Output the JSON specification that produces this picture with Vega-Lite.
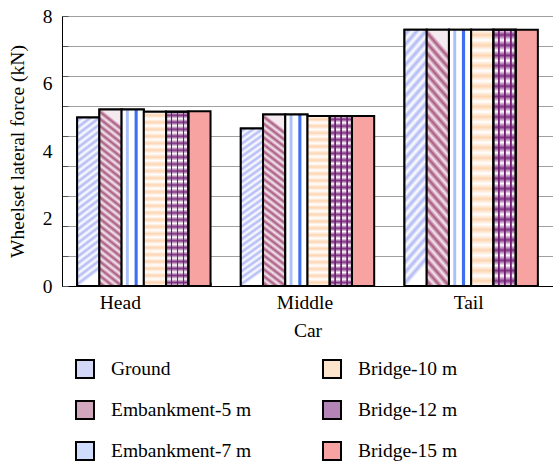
{
  "$schema": "https://vega.github.io/schema/vega-lite/v6.json",
  "width": 491,
  "height": 270,
  "autosize": "none",
  "padding": {"left": 62, "top": 16, "right": 0, "bottom": 177},
  "background": "white",
  "config": {
    "view": {"stroke": null},
    "font": "Liberation Serif",
    "axis": {
      "labelFont": "Liberation Serif",
      "labelFontSize": 19.5,
      "labelColor": "black",
      "titleFont": "Liberation Serif",
      "titleFontSize": 19.5,
      "titleFontWeight": "normal",
      "titleColor": "black",
      "domainColor": "black",
      "domainWidth": 1
    }
  },
  "data": {
    "values": [
      {"car": "Head", "series": "Ground", "value": 4.99},
      {"car": "Head", "series": "Embankment-5 m", "value": 5.23},
      {"car": "Head", "series": "Embankment-7 m", "value": 5.23},
      {"car": "Head", "series": "Bridge-10 m", "value": 5.16},
      {"car": "Head", "series": "Bridge-12 m", "value": 5.16},
      {"car": "Head", "series": "Bridge-15 m", "value": 5.18},
      {"car": "Middle", "series": "Ground", "value": 4.67},
      {"car": "Middle", "series": "Embankment-5 m", "value": 5.08},
      {"car": "Middle", "series": "Embankment-7 m", "value": 5.08},
      {"car": "Middle", "series": "Bridge-10 m", "value": 5.04},
      {"car": "Middle", "series": "Bridge-12 m", "value": 5.04},
      {"car": "Middle", "series": "Bridge-15 m", "value": 5.04},
      {"car": "Tail", "series": "Ground", "value": 7.59},
      {"car": "Tail", "series": "Embankment-5 m", "value": 7.59},
      {"car": "Tail", "series": "Embankment-7 m", "value": 7.59},
      {"car": "Tail", "series": "Bridge-10 m", "value": 7.59},
      {"car": "Tail", "series": "Bridge-12 m", "value": 7.59},
      {"car": "Tail", "series": "Bridge-15 m", "value": 7.59}
    ]
  },
  "encoding": {
    "x": {
      "field": "car",
      "type": "nominal",
      "sort": ["Head", "Middle", "Tail"],
      "scale": {"paddingInner": 0.185, "paddingOuter": 0.0925},
      "axis": {
        "title": "Car",
        "labelAngle": 0,
        "grid": false,
        "tickBand": "extent",
        "tickSize": -4,
        "tickColor": "#555555",
        "labelPadding": 11,
        "titlePadding": 10,
        "labelOffset": {"condition": {"test": "datum.value === 'Head'", "value": -24}, "value": -3}
      }
    },
    "xOffset": {
      "field": "series",
      "type": "nominal",
      "scale": {
        "domain": ["Ground", "Embankment-5 m", "Embankment-7 m", "Bridge-10 m", "Bridge-12 m", "Bridge-15 m"],
        "paddingInner": 0,
        "paddingOuter": 0
      }
    }
  },
  "layer": [
    {
      "mark": {"type": "bar", "stroke": "black", "strokeWidth": 2},
      "encoding": {
        "y": {
          "field": "value",
          "type": "quantitative",
          "scale": {"domain": [0, 8], "nice": false},
          "axis": {
            "orient": "left",
            "values": [0, 0.8889, 1.7778, 2.6667, 3.5556, 4.4444, 5.3333, 6.2222, 7.1111, 8],
            "labels": false,
            "title": null,
            "grid": true,
            "gridColor": "#a0a0a0",
            "gridWidth": 1,
            "ticks": true,
            "tickSize": -6,
            "tickColor": "#555555",
            "domain": true
          }
        },
        "color": {
          "field": "series",
          "type": "nominal",
          "scale": {
            "domain": ["Ground", "Embankment-5 m", "Embankment-7 m", "Bridge-10 m", "Bridge-12 m", "Bridge-15 m"],
            "range": ["#d4d8f8", "#d2a6bd", "#cfdcfb", "#fde4cc", "#b584b6", "#f6a3a2"]
          },
          "legend": {
            "orient": "none",
            "legendX": 13,
            "legendY": 343,
            "columns": 2,
            "title": null,
            "padding": 0,
            "symbolType": "square",
            "symbolSize": 324,
            "symbolStrokeColor": "black",
            "symbolStrokeWidth": 2,
            "labelFont": "Liberation Serif",
            "labelFontSize": 19.5,
            "labelColor": "black",
            "labelOffset": 16,
            "labelLimit": 250,
            "rowPadding": 15,
            "columnPadding": 67
          }
        }
      }
    },
    {
      "transform": [{"filter": "datum.series === 'Ground'"}],
      "mark": {
        "type": "bar", "stroke": "black", "strokeWidth": 2,
        "fill": {"gradient": "linear", "x1": 0, "y1": 0, "x2": 0.1, "y2": 1, "stops": [
          {"offset": 0, "color": "#ffffff"}, {"offset": 0.02, "color": "#b0b8f4"}, {"offset": 0.04, "color": "#ffffff"}, {"offset": 0.06, "color": "#b0b8f4"}, {"offset": 0.08, "color": "#ffffff"}, {"offset": 0.1, "color": "#b0b8f4"}, {"offset": 0.12, "color": "#ffffff"}, {"offset": 0.14, "color": "#b0b8f4"}, {"offset": 0.16, "color": "#ffffff"}, {"offset": 0.18, "color": "#b0b8f4"}, {"offset": 0.2, "color": "#ffffff"}, {"offset": 0.22, "color": "#b0b8f4"}, {"offset": 0.24, "color": "#ffffff"}, {"offset": 0.26, "color": "#b0b8f4"}, {"offset": 0.28, "color": "#ffffff"}, {"offset": 0.3, "color": "#b0b8f4"}, {"offset": 0.32, "color": "#ffffff"}, {"offset": 0.34, "color": "#b0b8f4"}, {"offset": 0.36, "color": "#ffffff"}, {"offset": 0.38, "color": "#b0b8f4"}, {"offset": 0.4, "color": "#ffffff"}, {"offset": 0.42, "color": "#b0b8f4"}, {"offset": 0.44, "color": "#ffffff"}, {"offset": 0.46, "color": "#b0b8f4"}, {"offset": 0.48, "color": "#ffffff"}, {"offset": 0.5, "color": "#b0b8f4"}, {"offset": 0.52, "color": "#ffffff"}, {"offset": 0.54, "color": "#b0b8f4"}, {"offset": 0.56, "color": "#ffffff"}, {"offset": 0.58, "color": "#b0b8f4"}, {"offset": 0.6, "color": "#ffffff"}, {"offset": 0.62, "color": "#b0b8f4"}, {"offset": 0.64, "color": "#ffffff"}, {"offset": 0.66, "color": "#b0b8f4"}, {"offset": 0.68, "color": "#ffffff"}, {"offset": 0.7, "color": "#b0b8f4"}, {"offset": 0.72, "color": "#ffffff"}, {"offset": 0.74, "color": "#b0b8f4"}, {"offset": 0.76, "color": "#ffffff"}, {"offset": 0.78, "color": "#b0b8f4"}, {"offset": 0.8, "color": "#ffffff"}, {"offset": 0.82, "color": "#b0b8f4"}, {"offset": 0.84, "color": "#ffffff"}, {"offset": 0.86, "color": "#b0b8f4"}, {"offset": 0.88, "color": "#ffffff"}, {"offset": 0.9, "color": "#b0b8f4"}, {"offset": 0.92, "color": "#ffffff"}, {"offset": 0.94, "color": "#b0b8f4"}, {"offset": 0.96, "color": "#ffffff"}, {"offset": 0.98, "color": "#b0b8f4"}, {"offset": 1, "color": "#ffffff"}
        ]}
      },
      "encoding": {"y": {"field": "value", "type": "quantitative", "axis": null}}
    },
    {
      "transform": [{"filter": "datum.series === 'Embankment-5 m'"}],
      "mark": {
        "type": "bar", "stroke": "black", "strokeWidth": 2,
        "fill": {"gradient": "linear", "x1": 0, "y1": 1, "x2": 0.1, "y2": 0, "stops": [
          {"offset": 0, "color": "#f4eaf0"}, {"offset": 0.02, "color": "#a9577f"}, {"offset": 0.04, "color": "#f4eaf0"}, {"offset": 0.06, "color": "#a9577f"}, {"offset": 0.08, "color": "#f4eaf0"}, {"offset": 0.1, "color": "#a9577f"}, {"offset": 0.12, "color": "#f4eaf0"}, {"offset": 0.14, "color": "#a9577f"}, {"offset": 0.16, "color": "#f4eaf0"}, {"offset": 0.18, "color": "#a9577f"}, {"offset": 0.2, "color": "#f4eaf0"}, {"offset": 0.22, "color": "#a9577f"}, {"offset": 0.24, "color": "#f4eaf0"}, {"offset": 0.26, "color": "#a9577f"}, {"offset": 0.28, "color": "#f4eaf0"}, {"offset": 0.3, "color": "#a9577f"}, {"offset": 0.32, "color": "#f4eaf0"}, {"offset": 0.34, "color": "#a9577f"}, {"offset": 0.36, "color": "#f4eaf0"}, {"offset": 0.38, "color": "#a9577f"}, {"offset": 0.4, "color": "#f4eaf0"}, {"offset": 0.42, "color": "#a9577f"}, {"offset": 0.44, "color": "#f4eaf0"}, {"offset": 0.46, "color": "#a9577f"}, {"offset": 0.48, "color": "#f4eaf0"}, {"offset": 0.5, "color": "#a9577f"}, {"offset": 0.52, "color": "#f4eaf0"}, {"offset": 0.54, "color": "#a9577f"}, {"offset": 0.56, "color": "#f4eaf0"}, {"offset": 0.58, "color": "#a9577f"}, {"offset": 0.6, "color": "#f4eaf0"}, {"offset": 0.62, "color": "#a9577f"}, {"offset": 0.64, "color": "#f4eaf0"}, {"offset": 0.66, "color": "#a9577f"}, {"offset": 0.68, "color": "#f4eaf0"}, {"offset": 0.7, "color": "#a9577f"}, {"offset": 0.72, "color": "#f4eaf0"}, {"offset": 0.74, "color": "#a9577f"}, {"offset": 0.76, "color": "#f4eaf0"}, {"offset": 0.78, "color": "#a9577f"}, {"offset": 0.8, "color": "#f4eaf0"}, {"offset": 0.82, "color": "#a9577f"}, {"offset": 0.84, "color": "#f4eaf0"}, {"offset": 0.86, "color": "#a9577f"}, {"offset": 0.88, "color": "#f4eaf0"}, {"offset": 0.9, "color": "#a9577f"}, {"offset": 0.92, "color": "#f4eaf0"}, {"offset": 0.94, "color": "#a9577f"}, {"offset": 0.96, "color": "#f4eaf0"}, {"offset": 0.98, "color": "#a9577f"}, {"offset": 1, "color": "#f4eaf0"}
        ]}
      },
      "encoding": {"y": {"field": "value", "type": "quantitative", "axis": null}}
    },
    {
      "transform": [{"filter": "datum.series === 'Embankment-7 m'"}],
      "mark": {
        "type": "bar", "stroke": "black", "strokeWidth": 2,
        "fill": {"gradient": "linear", "x1": 0, "y1": 0, "x2": 1, "y2": 0, "stops": [
          {"offset": 0, "color": "#ffffff"}, {"offset": 0.17, "color": "#ffffff"}, {"offset": 0.22, "color": "#a9c0f8"}, {"offset": 0.3, "color": "#a9c0f8"}, {"offset": 0.35, "color": "#ffffff"}, {"offset": 0.56, "color": "#ffffff"}, {"offset": 0.61, "color": "#3f6ef0"}, {"offset": 0.7, "color": "#3f6ef0"}, {"offset": 0.75, "color": "#ffffff"}, {"offset": 1, "color": "#ffffff"}
        ]}
      },
      "encoding": {"y": {"field": "value", "type": "quantitative", "axis": null}}
    },
    {
      "transform": [{"filter": "datum.series === 'Bridge-10 m'"}],
      "mark": {
        "type": "bar", "stroke": "black", "strokeWidth": 2,
        "fill": {"gradient": "linear", "x1": 0, "y1": 0, "x2": 0, "y2": 1, "stops": [
          {"offset": 0, "color": "#ffffff"}, {"offset": 0.02, "color": "#fdd5b2"}, {"offset": 0.04, "color": "#ffffff"}, {"offset": 0.06, "color": "#fdd5b2"}, {"offset": 0.08, "color": "#ffffff"}, {"offset": 0.1, "color": "#fdd5b2"}, {"offset": 0.12, "color": "#ffffff"}, {"offset": 0.14, "color": "#fdd5b2"}, {"offset": 0.16, "color": "#ffffff"}, {"offset": 0.18, "color": "#fdd5b2"}, {"offset": 0.2, "color": "#ffffff"}, {"offset": 0.22, "color": "#fdd5b2"}, {"offset": 0.24, "color": "#ffffff"}, {"offset": 0.26, "color": "#fdd5b2"}, {"offset": 0.28, "color": "#ffffff"}, {"offset": 0.3, "color": "#fdd5b2"}, {"offset": 0.32, "color": "#ffffff"}, {"offset": 0.34, "color": "#fdd5b2"}, {"offset": 0.36, "color": "#ffffff"}, {"offset": 0.38, "color": "#fdd5b2"}, {"offset": 0.4, "color": "#ffffff"}, {"offset": 0.42, "color": "#fdd5b2"}, {"offset": 0.44, "color": "#ffffff"}, {"offset": 0.46, "color": "#fdd5b2"}, {"offset": 0.48, "color": "#ffffff"}, {"offset": 0.5, "color": "#fdd5b2"}, {"offset": 0.52, "color": "#ffffff"}, {"offset": 0.54, "color": "#fdd5b2"}, {"offset": 0.56, "color": "#ffffff"}, {"offset": 0.58, "color": "#fdd5b2"}, {"offset": 0.6, "color": "#ffffff"}, {"offset": 0.62, "color": "#fdd5b2"}, {"offset": 0.64, "color": "#ffffff"}, {"offset": 0.66, "color": "#fdd5b2"}, {"offset": 0.68, "color": "#ffffff"}, {"offset": 0.7, "color": "#fdd5b2"}, {"offset": 0.72, "color": "#ffffff"}, {"offset": 0.74, "color": "#fdd5b2"}, {"offset": 0.76, "color": "#ffffff"}, {"offset": 0.78, "color": "#fdd5b2"}, {"offset": 0.8, "color": "#ffffff"}, {"offset": 0.82, "color": "#fdd5b2"}, {"offset": 0.84, "color": "#ffffff"}, {"offset": 0.86, "color": "#fdd5b2"}, {"offset": 0.88, "color": "#ffffff"}, {"offset": 0.9, "color": "#fdd5b2"}, {"offset": 0.92, "color": "#ffffff"}, {"offset": 0.94, "color": "#fdd5b2"}, {"offset": 0.96, "color": "#ffffff"}, {"offset": 0.98, "color": "#fdd5b2"}, {"offset": 1, "color": "#ffffff"}
        ]}
      },
      "encoding": {"y": {"field": "value", "type": "quantitative", "axis": null}}
    },
    {
      "transform": [{"filter": "datum.series === 'Bridge-12 m'"}],
      "mark": {
        "type": "bar", "stroke": "black", "strokeWidth": 2,
        "fill": {"gradient": "linear", "x1": 0, "y1": 0, "x2": 1, "y2": 0, "stops": [
          {"offset": 0, "color": "#ffffff"}, {"offset": 0.2, "color": "#ffffff"}, {"offset": 0.22, "color": "#701a72"}, {"offset": 0.27, "color": "#701a72"}, {"offset": 0.29, "color": "#ffffff"}, {"offset": 0.47, "color": "#ffffff"}, {"offset": 0.49, "color": "#701a72"}, {"offset": 0.54, "color": "#701a72"}, {"offset": 0.56, "color": "#ffffff"}, {"offset": 0.74, "color": "#ffffff"}, {"offset": 0.76, "color": "#701a72"}, {"offset": 0.81, "color": "#701a72"}, {"offset": 0.83, "color": "#ffffff"}, {"offset": 1, "color": "#ffffff"}
        ]}
      },
      "encoding": {"y": {"field": "value", "type": "quantitative", "axis": null}}
    },
    {
      "transform": [{"filter": "datum.series === 'Bridge-12 m'"}],
      "mark": {
        "type": "bar",
        "stroke": "black",
        "strokeWidth": 2,
        "fill": {"gradient": "linear", "x1": 0, "y1": 0, "x2": 0, "y2": 1, "stops": [
          {"offset": 0, "color": "rgba(112,26,114,0)"}, {"offset": 0.02, "color": "rgba(112,26,114,0.9)"}, {"offset": 0.04, "color": "rgba(112,26,114,0)"}, {"offset": 0.06, "color": "rgba(112,26,114,0.9)"}, {"offset": 0.08, "color": "rgba(112,26,114,0)"}, {"offset": 0.1, "color": "rgba(112,26,114,0.9)"}, {"offset": 0.12, "color": "rgba(112,26,114,0)"}, {"offset": 0.14, "color": "rgba(112,26,114,0.9)"}, {"offset": 0.16, "color": "rgba(112,26,114,0)"}, {"offset": 0.18, "color": "rgba(112,26,114,0.9)"}, {"offset": 0.2, "color": "rgba(112,26,114,0)"}, {"offset": 0.22, "color": "rgba(112,26,114,0.9)"}, {"offset": 0.24, "color": "rgba(112,26,114,0)"}, {"offset": 0.26, "color": "rgba(112,26,114,0.9)"}, {"offset": 0.28, "color": "rgba(112,26,114,0)"}, {"offset": 0.3, "color": "rgba(112,26,114,0.9)"}, {"offset": 0.32, "color": "rgba(112,26,114,0)"}, {"offset": 0.34, "color": "rgba(112,26,114,0.9)"}, {"offset": 0.36, "color": "rgba(112,26,114,0)"}, {"offset": 0.38, "color": "rgba(112,26,114,0.9)"}, {"offset": 0.4, "color": "rgba(112,26,114,0)"}, {"offset": 0.42, "color": "rgba(112,26,114,0.9)"}, {"offset": 0.44, "color": "rgba(112,26,114,0)"}, {"offset": 0.46, "color": "rgba(112,26,114,0.9)"}, {"offset": 0.48, "color": "rgba(112,26,114,0)"}, {"offset": 0.5, "color": "rgba(112,26,114,0.9)"}, {"offset": 0.52, "color": "rgba(112,26,114,0)"}, {"offset": 0.54, "color": "rgba(112,26,114,0.9)"}, {"offset": 0.56, "color": "rgba(112,26,114,0)"}, {"offset": 0.58, "color": "rgba(112,26,114,0.9)"}, {"offset": 0.6, "color": "rgba(112,26,114,0)"}, {"offset": 0.62, "color": "rgba(112,26,114,0.9)"}, {"offset": 0.64, "color": "rgba(112,26,114,0)"}, {"offset": 0.66, "color": "rgba(112,26,114,0.9)"}, {"offset": 0.68, "color": "rgba(112,26,114,0)"}, {"offset": 0.7, "color": "rgba(112,26,114,0.9)"}, {"offset": 0.72, "color": "rgba(112,26,114,0)"}, {"offset": 0.74, "color": "rgba(112,26,114,0.9)"}, {"offset": 0.76, "color": "rgba(112,26,114,0)"}, {"offset": 0.78, "color": "rgba(112,26,114,0.9)"}, {"offset": 0.8, "color": "rgba(112,26,114,0)"}, {"offset": 0.82, "color": "rgba(112,26,114,0.9)"}, {"offset": 0.84, "color": "rgba(112,26,114,0)"}, {"offset": 0.86, "color": "rgba(112,26,114,0.9)"}, {"offset": 0.88, "color": "rgba(112,26,114,0)"}, {"offset": 0.9, "color": "rgba(112,26,114,0.9)"}, {"offset": 0.92, "color": "rgba(112,26,114,0)"}, {"offset": 0.94, "color": "rgba(112,26,114,0.9)"}, {"offset": 0.96, "color": "rgba(112,26,114,0)"}, {"offset": 0.98, "color": "rgba(112,26,114,0.9)"}, {"offset": 1, "color": "rgba(112,26,114,0)"}
        ]}
      },
      "encoding": {
        "y": {
          "field": "value",
          "type": "quantitative",
          "axis": {
            "orient": "left",
            "values": [0, 2, 4, 6, 8],
            "grid": false,
            "ticks": false,
            "domain": false,
            "labelPadding": 10,
            "title": "Wheelset lateral force (kN)",
            "titlePadding": 15
          }
        }
      }
    }
  ],
  "resolve": {"axis": {"y": "independent"}}
}
